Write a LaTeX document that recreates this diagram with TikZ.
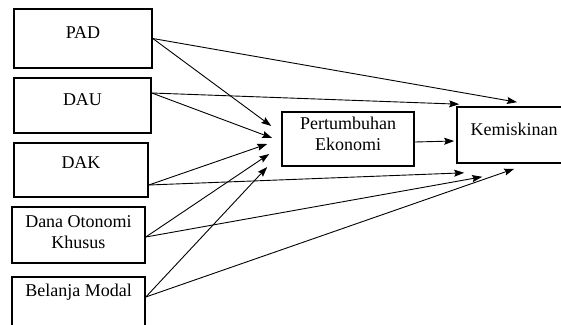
\documentclass[tikz,border=0pt]{standalone}
\usepackage{fontspec}
\setmainfont{Liberation Serif}
\usetikzlibrary{positioning}
\usetikzlibrary{arrows.meta}

\begin{document}
\begin{tikzpicture}[x=1pt,y=-1pt,
	boxnode/.style={rectangle, draw=black, line width=1.6pt, inner sep=0pt},
	textnode/.style={font=\fontsize{18}{21}\selectfont, align=center, inner sep=0pt},
	arrowline/.style={line width=0.9pt, -{Stealth[length=10pt,width=7pt,inset=1.5pt]}},
	]
	\useasboundingbox (0,0) rectangle (561,324);
	%Nodes
	\node[boxnode, minimum width=138, minimum height=59] (pad) at (83,38.5)  {};
	\node[boxnode, minimum width=137, minimum height=55] (dau) at (82.5,105.5) {};
	\node[boxnode, minimum width=134, minimum height=54] (dak) at (81,170)   {};
	\node[boxnode, minimum width=133, minimum height=56] (dok) at (78.5,235) {};
	\node[boxnode, minimum width=133, minimum height=58] (bm)  at (78.5,306) {};
	\node[boxnode, minimum width=132, minimum height=54] (pe)  at (348,139)  {};
	\node[boxnode, minimum width=114, minimum height=56] (kem) at (514,135)  {};
	
	\node[textnode] (padtext) at ([yshift=-24]pad.north) {PAD};
	\node[textnode] (dautext) at ([yshift=-22]dau.north) {DAU};
	\node[textnode] (daktext) at ([yshift=-20]dak.north) {DAK};
	\node[textnode] (doktext) at ([yshift=-25.5]dok.north) {Dana Otonomi\\Khusus};
	\node[textnode] (bmtext)  at ([yshift=-16]bm.north) {Belanja Modal};
	\node[textnode] (petext)  at ([yshift=-22.5]pe.north) {Pertumbuhan\\Ekonomi};
	\node[textnode] (kemtext) at ([yshift=-23]kem.north) {Kemiskinan};
	
	%Arrows
	\draw[arrowline] (pad.east) -- ([xshift=-10,yshift=13]pe.west);
	\draw[arrowline] (pad.east) -- ([xshift=3,yshift=4]kem.north);
	\draw[arrowline] ([yshift=12.5]dau.east) -- ([xshift=3,yshift=2]kem.north west);
	\draw[arrowline] ([yshift=12.5]dau.east) -- ([xshift=-9,yshift=1]pe.west);
	\draw[arrowline] ([yshift=-15]dak.east) -- ([xshift=-14,yshift=-5]pe.west);
	\draw[arrowline] ([yshift=-15]dak.east) -- ([xshift=8,yshift=-9]kem.south west);
	\draw[arrowline] ([yshift=-2]dok.east) -- ([xshift=-12,yshift=-15]pe.west);
	\draw[arrowline] ([yshift=-2]dok.east) -- ([xshift=26,yshift=-13]kem.south west);
	\draw[arrowline] ([yshift=9]bm.east) -- ([xshift=-14,yshift=-28]pe.west);
	\draw[arrowline] ([yshift=9]bm.east) -- ([xshift=58,yshift=-5]kem.south west);
	\draw[arrowline] ([yshift=-3]pe.east) -- ([xshift=-2,yshift=-6]kem.west);
\end{tikzpicture}
\end{document}
